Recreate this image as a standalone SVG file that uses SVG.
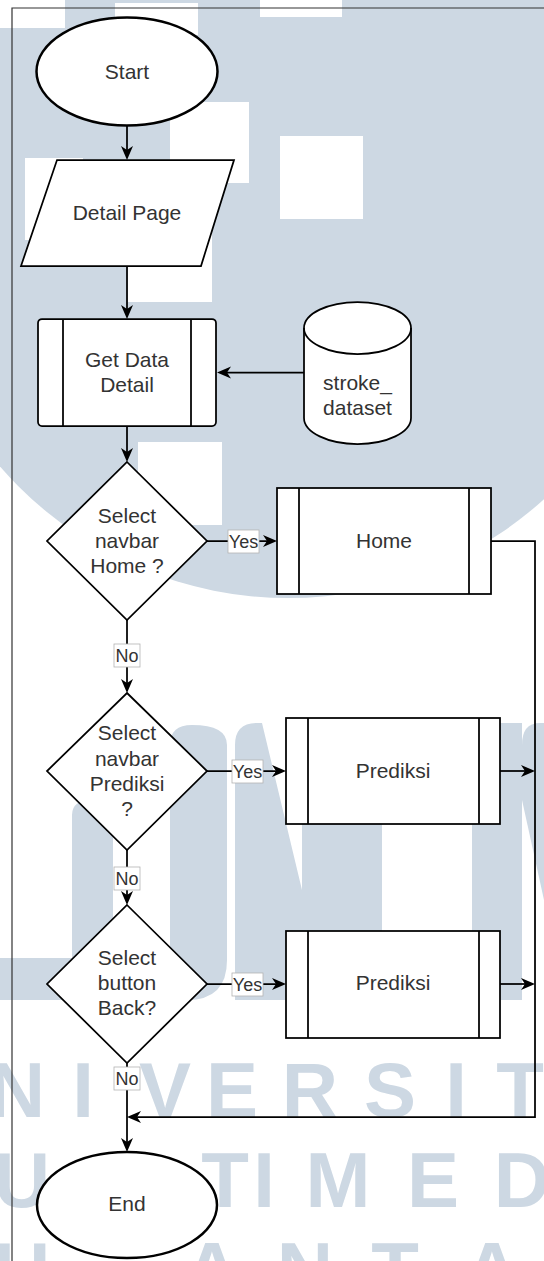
<svg xmlns="http://www.w3.org/2000/svg" width="544" height="1261" viewBox="0 0 544 1261">
  <defs>
    <style>
      .wm { fill: #cdd8e3; }
      .wm-cut { fill: #ffffff; }
      .wm-txt { fill: #cdd8e3; font-family: "Liberation Sans", Arial, sans-serif; font-weight: bold; font-size: 78px; text-anchor: middle; }
      .shape { fill: #ffffff; stroke: #000000; stroke-width: 1.75; }
      .terminal { fill: #ffffff; stroke: #000000; stroke-width: 2.5; }
      .thin { fill: none; stroke: #000000; stroke-width: 1.75; }
      .lbl { font-family: "Liberation Sans", Arial, sans-serif; font-size: 21px; fill: #333333; text-anchor: middle; }
      .edge { fill: none; stroke: #000000; stroke-width: 1.75; }
      .tag-box { fill: #ffffff; stroke: #b3b3b3; stroke-width: 0.8; }
      .tag { font-family: "Liberation Sans", Arial, sans-serif; font-size: 18px; fill: #333333; text-anchor: middle; }
    </style>
    <marker id="arrow" markerUnits="userSpaceOnUse" markerWidth="16" markerHeight="14" viewBox="-12 -7 16 14" refX="0" refY="0" orient="auto">
      <path d="M4,0 L-10,-6 L-6,0 L-10,6 Z" fill="#000000"/>
    </marker>
  </defs>

  <rect x="0" y="0" width="544" height="1261" fill="#ffffff"/>

  <!-- background emblem -->
  <g id="emblem">
    <circle class="wm" cx="288" cy="217" r="381"/>
    <rect class="wm-cut" x="0" y="0" width="65" height="28"/>
    <rect class="wm-cut" x="115" y="3" width="83" height="32"/>
    <rect class="wm-cut" x="260" y="0" width="82" height="17"/>
    <rect class="wm-cut" x="170" y="102" width="79" height="81"/>
    <rect class="wm-cut" x="280" y="136" width="83" height="83"/>
    <rect class="wm-cut" x="25" y="158" width="58" height="82"/>
    <rect class="wm-cut" x="128" y="218" width="84" height="84"/>
    <rect class="wm-cut" x="138" y="442" width="84" height="83"/>
    <!-- large letter forms -->
    <path class="wm" d="M0,958 H72 V815 Q72,800 92,800 Q113,800 113,815 V958 H170 V745 Q170,725 192,725 Q227,725 227,745 V960 Q227,1000 187,1000 H0 Z"/>
    <path class="wm" d="M235,1000 V745 Q235,723 257,723 H262 L302,890 V723 H382 V1000 Z"/>
    <path class="wm" d="M472,1000 V745 Q472,723 494,723 H522 V1000 Z"/>
    <path class="wm" d="M522,745 Q522,723 540,723 H544 V900 L522,800 Z"/>
    <!-- spaced lettering -->
    <text class="wm-txt" x="17" y="1117">N</text>
    <text class="wm-txt" x="83" y="1117">I</text>
    <text class="wm-txt" x="165" y="1117">V</text>
    <text class="wm-txt" x="232" y="1117">E</text>
    <text class="wm-txt" x="310" y="1117">R</text>
    <text class="wm-txt" x="390" y="1117">S</text>
    <text class="wm-txt" x="456" y="1117">I</text>
    <text class="wm-txt" x="520" y="1117">T</text>
    <text class="wm-txt" x="22" y="1207">U</text>
    <text class="wm-txt" x="225" y="1207">T</text>
    <text class="wm-txt" x="264" y="1207">I</text>
    <text class="wm-txt" x="338" y="1207">M</text>
    <text class="wm-txt" x="433" y="1207">E</text>
    <text class="wm-txt" x="522" y="1207">D</text>
    <text class="wm-txt" x="22" y="1297">U</text>
    <text class="wm-txt" x="212" y="1297">A</text>
    <text class="wm-txt" x="305" y="1297">N</text>
    <text class="wm-txt" x="395" y="1297">T</text>
    <text class="wm-txt" x="492" y="1297">A</text>
  </g>

  <!-- page frame -->
  <path d="M12,1261 V8 H544" fill="none" stroke="#333333" stroke-width="1.2"/>

  <g id="start">
    <ellipse class="terminal" cx="127" cy="71.5" rx="90.5" ry="54"/>
    <text class="lbl" x="127" y="79">Start</text>
  </g>

  <g id="detail-page">
    <polygon class="shape" points="57,160 234,160 201,266 21,266"/>
    <text class="lbl" x="127" y="220">Detail Page</text>
  </g>

  <g id="get-data-detail">
    <rect class="shape" x="38" y="319" width="178" height="107" rx="4" ry="4"/>
    <path class="thin" d="M63,319 V426 M191,319 V426"/>
    <text class="lbl" x="127" y="367">Get Data</text>
    <text class="lbl" x="127" y="392">Detail</text>
  </g>

  <g id="stroke-dataset">
    <path class="shape" d="M304,328 A53.5,26 0 0 1 411,328 V418 A53.5,26 0 0 1 304,418 Z"/>
    <path class="thin" d="M304,328 A53.5,26 0 0 0 411,328"/>
    <text class="lbl" x="357.5" y="390">stroke_</text>
    <text class="lbl" x="357.5" y="415">dataset</text>
  </g>

  <g id="decision-home">
    <polygon class="shape" points="127,462 207,541 127,620 47,541"/>
    <text class="lbl" x="127" y="523">Select</text>
    <text class="lbl" x="127" y="548">navbar</text>
    <text class="lbl" x="127" y="573">Home ?</text>
  </g>

  <g id="home">
    <rect class="shape" x="277" y="488" width="214" height="106"/>
    <path class="thin" d="M299,488 V594 M469,488 V594"/>
    <text class="lbl" x="384" y="548">Home</text>
  </g>

  <g id="decision-prediksi">
    <polygon class="shape" points="127,693 207,771 127,850 47,771"/>
    <text class="lbl" x="127" y="740">Select</text>
    <text class="lbl" x="127" y="766">navbar</text>
    <text class="lbl" x="127" y="791">Prediksi</text>
    <text class="lbl" x="127" y="816">?</text>
  </g>

  <g id="prediksi-1">
    <rect class="shape" x="286" y="718" width="214" height="106"/>
    <path class="thin" d="M308,718 V824 M479,718 V824"/>
    <text class="lbl" x="393" y="778">Prediksi</text>
  </g>

  <g id="decision-back">
    <polygon class="shape" points="127,905 207,984 127,1063 47,984"/>
    <text class="lbl" x="127" y="965">Select</text>
    <text class="lbl" x="127" y="990">button</text>
    <text class="lbl" x="127" y="1015">Back?</text>
  </g>

  <g id="prediksi-2">
    <rect class="shape" x="286" y="931" width="214" height="107"/>
    <path class="thin" d="M308,931 V1038 M479,931 V1038"/>
    <text class="lbl" x="393" y="990">Prediksi</text>
  </g>

  <g id="end">
    <ellipse class="terminal" cx="127" cy="1205" rx="90" ry="53"/>
    <text class="lbl" x="127" y="1211">End</text>
  </g>

  <g id="connectors">
    <path class="edge" d="M127,126 V156" marker-end="url(#arrow)"/>
    <path class="edge" d="M127,266 V315" marker-end="url(#arrow)"/>
    <path class="edge" d="M304,372.5 H221" marker-end="url(#arrow)"/>
    <path class="edge" d="M127,426 V458" marker-end="url(#arrow)"/>
    <path class="edge" d="M207,541 H273" marker-end="url(#arrow)"/>
    <path class="edge" d="M127,620 V689" marker-end="url(#arrow)"/>
    <path class="edge" d="M207,771 H282" marker-end="url(#arrow)"/>
    <path class="edge" d="M127,850 V901" marker-end="url(#arrow)"/>
    <path class="edge" d="M207,984 H282" marker-end="url(#arrow)"/>
    <path class="edge" d="M127,1063 V1148" marker-end="url(#arrow)"/>
    <path class="edge" d="M491,541 H535 V1117 H131" marker-end="url(#arrow)"/>
    <path class="edge" d="M500,771 H531" marker-end="url(#arrow)"/>
    <path class="edge" d="M500,984 H531" marker-end="url(#arrow)"/>
  </g>

  <g id="edge-labels">
    <rect class="tag-box" x="228" y="530" width="31" height="23"/>
    <text class="tag" x="243.5" y="548">Yes</text>
    <rect class="tag-box" x="114" y="644" width="26" height="23"/>
    <text class="tag" x="127" y="662">No</text>
    <rect class="tag-box" x="232" y="760" width="31" height="23"/>
    <text class="tag" x="247.5" y="778">Yes</text>
    <rect class="tag-box" x="114" y="867" width="26" height="23"/>
    <text class="tag" x="127" y="885">No</text>
    <rect class="tag-box" x="232" y="973" width="31" height="23"/>
    <text class="tag" x="247.5" y="991">Yes</text>
    <rect class="tag-box" x="114" y="1067" width="26" height="23"/>
    <text class="tag" x="127" y="1085">No</text>
  </g>
</svg>
